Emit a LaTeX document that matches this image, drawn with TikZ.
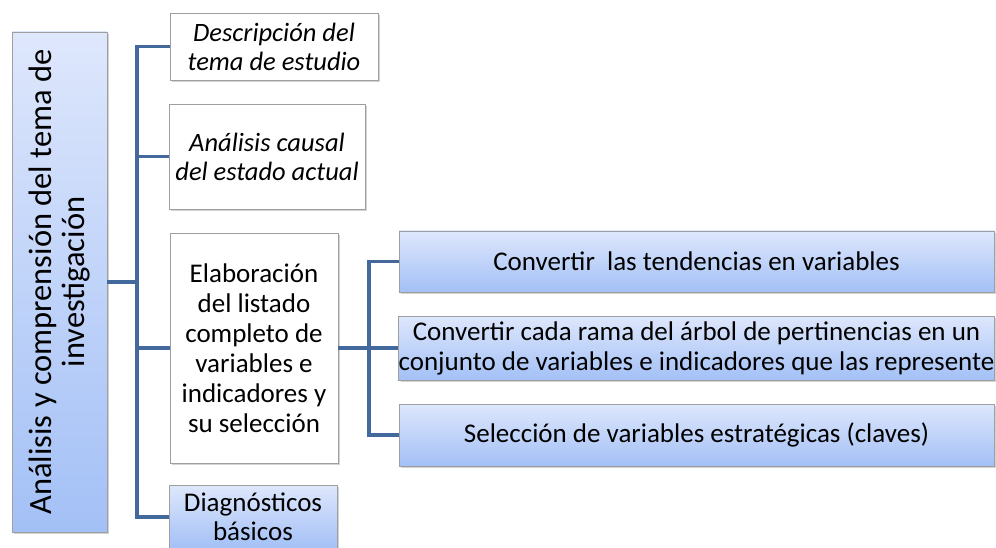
\documentclass[tikz,border=0pt]{standalone}
\usepackage{fontspec}
\setmainfont{Carlito}
\usepackage{tikz}
\usetikzlibrary{shapes, positioning, shadows}

\definecolor{linkblue}{RGB}{66,104,156}
\definecolor{boxtop}{RGB}{222,231,252}
\definecolor{boxbot}{RGB}{163,192,246}

\begin{document}
\begin{tikzpicture}[x=1pt, y=1pt,
    box/.style={draw=gray!75, line width=0.8pt, rectangle, inner sep=0pt, align=center,
        drop shadow={shadow xshift=2pt, shadow yshift=-2pt, opacity=0.35}},
    whitebox/.style={box, fill=white},
    bluebox/.style={box, top color=boxtop, bottom color=boxbot},
    link/.style={draw=linkblue, line width=3.6pt, line join=miter}]
            \useasboundingbox (0,0) rectangle (996,-548);
            % raiz
            \node[bluebox, minimum width=500, minimum height=95, rotate=90,
                font=\fontsize{32.5}{33}\selectfont] (root) at (59.5,-282)
                {Análisis y comprensión del tema de\\investigación};
            % primer nivel
            \node[whitebox, minimum width=208, minimum height=67,
                font=\fontsize{26.5}{29}\selectfont\itshape] (desc) at (274,-46.5)
                {Descripción del\\tema de estudio};
            \node[whitebox, minimum width=196, minimum height=105,
                font=\fontsize{26.5}{29}\selectfont\itshape] (causal) at (267,-156.5)
                {Análisis causal\\del estado actual};
            \node[whitebox, minimum width=168, minimum height=230,
                font=\fontsize{27}{30}\selectfont] (elab) at (254,-348)
                {Elaboración\\del listado\\completo de\\variables e\\indicadores y\\su selección};
            \node[bluebox, minimum width=168, minimum height=64,
                font=\fontsize{27}{29}\selectfont] (diag) at (253,-517)
                {Diagnósticos\\básicos};
            % segundo nivel
            \node[bluebox, minimum width=595, minimum height=61,
                font=\fontsize{27}{30}\selectfont] (tend) at (696.5,-261.5)
                {Convertir \ las tendencias en variables};
            \node[bluebox, minimum width=595, minimum height=64,
                font=\fontsize{27}{30}\selectfont] (rama) at (696.5,-348)
                {Convertir cada rama del árbol de pertinencias en un\\conjunto de variables e indicadores que las represente};
            \node[bluebox, minimum width=595, minimum height=62,
                font=\fontsize{27}{30}\selectfont] (selec) at (696.5,-435)
                {Selección de variables estratégicas (claves)};
            % conectores
            \coordinate (t0) at (137,-282);
            \coordinate (t1) at (369,-348);
            \draw[link] (root.south) -- (t0);
            \draw[link] (desc.west) -| (t0) |- (diag.west);
            \draw[link] (causal.west) -- (causal.west -| t0);
            \draw[link] (elab.west) -- (elab.west -| t0);
            \draw[link] (elab.east) -- (t1);
            \draw[link] (tend.west) -| (t1) |- (selec.west);
            \draw[link] (rama.west) -- (t1);
        \end{tikzpicture}
\end{document}
